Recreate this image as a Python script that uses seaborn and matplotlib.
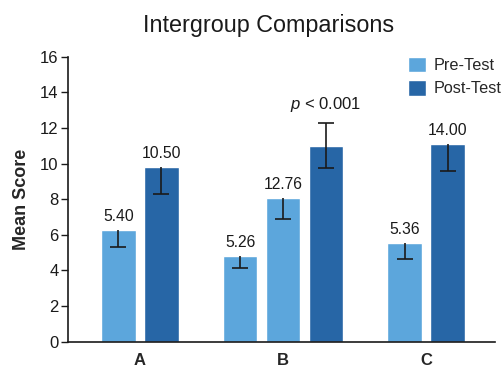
import matplotlib
matplotlib.use("Agg")
import matplotlib.pyplot as plt
from matplotlib.patches import Patch
import seaborn as sns
import pandas as pd
import numpy as np

# ---- data ----
groups = ["A", "B", "C"]
bar_group = ["A", "A", "B", "B", "B", "C", "C"]
bar_test = ["Pre-Test", "Post-Test", "Pre-Test", "Pre-Test", "Post-Test", "Pre-Test", "Post-Test"]
bar_value = [6.27, 9.79, 4.81, 8.05, 10.99, 5.52, 11.08]
err_low = [0.97, 1.52, 0.67, 1.16, 1.26, 0.88, 1.48]
err_high = [0.0, 0.0, 0.0, 0.0, 1.27, 0.0, 0.0]
bar_label = ["5.40", "10.50", "5.26", "12.76", "", "5.36", "14.00"]
p_text = "$p$ < 0.001"

colors = {"Pre-Test": "#5ca6dc", "Post-Test": "#2766a6"}

sns.set_style("white")
plt.rcParams["font.family"] = ["Liberation Sans", "DejaVu Sans"]
plt.rcParams["mathtext.fontset"] = "custom"
plt.rcParams["mathtext.rm"] = "Liberation Sans"
plt.rcParams["mathtext.it"] = "Liberation Sans:italic"

# bar positions: group index plus offset within the group
step = 0.3
pos = []
for g in groups:
    n = bar_group.count(g)
    gi = groups.index(g)
    for k in range(n):
        pos.append(round(gi + (k - (n - 1) / 2) * step, 3))

df = pd.DataFrame({"pos": pos, "group": bar_group, "test": bar_test,
                   "value": bar_value, "lo": err_low, "hi": err_high,
                   "label": bar_label})

fig = plt.figure(figsize=(5.04, 3.67), dpi=100)
ax = fig.add_axes([0.1355, 0.069, 0.8465, 0.7765])

sns.barplot(data=df, x="pos", y="value", hue="test", palette=colors,
            native_scale=True, dodge=False, width=0.81, errorbar=None,
            legend=False, ax=ax, saturation=1)

ink = "#1a1a1a"
# error bars: stems, then caps only where a whisker exists
ax.errorbar(df["pos"], df["value"], yerr=[df["lo"], df["hi"]], fmt="none",
            ecolor=ink, elinewidth=1.2, capsize=0)
ax.plot(df["pos"], df["value"] - df["lo"], ls="none", marker="_", ms=11,
        mew=1.2, color=ink)
up = df[df["hi"] > 0]
ax.plot(up["pos"], up["value"] + up["hi"], ls="none", marker="_", ms=11,
        mew=1.2, color=ink)

for _, r in df.iterrows():
    if r["label"]:
        ax.text(r["pos"], r["value"] + 0.36, r["label"], ha="center", va="bottom",
                fontsize=11.3, color=ink)
bpost = df[(df["group"] == "B") & (df["test"] == "Post-Test")].iloc[0]
ax.text(bpost["pos"], bpost["value"] + bpost["hi"] + 0.55, p_text, ha="center",
        va="bottom", fontsize=12, color=ink)

ax.set_xlim(-0.50, 2.48)
ax.set_ylim(0, 16)
ax.set_yticks(np.arange(0, 17, 2))
ax.set_xticks(range(len(groups)))
ax.set_xticklabels(groups, fontweight="bold", fontsize=12)
ax.tick_params(axis="x", length=0, pad=8)
ax.tick_params(axis="y", length=5, width=1, labelsize=12, left=True,
               direction="out", pad=2, colors=ink)
ax.set_xlabel("")
ax.set_ylabel("Mean Score", fontweight="bold", fontsize=13, labelpad=7)
sns.despine(ax=ax)
for s in ["left", "bottom"]:
    ax.spines[s].set_color(ink)
    ax.spines[s].set_linewidth(1.2)

handles = [Patch(facecolor=colors[t], label=t) for t in ["Pre-Test", "Post-Test"]]
ax.legend(handles=handles, loc="upper right", bbox_to_anchor=(1.05, 1.052),
          frameon=False, fontsize=11.7, handlelength=1.1, handleheight=1.1,
          handletextpad=0.5, labelspacing=0.45)

fig.text(0.532, 0.93, "Intergroup Comparisons", ha="center", va="center",
         fontsize=16.8, color=ink)

fig.savefig("out.png", dpi=100)
